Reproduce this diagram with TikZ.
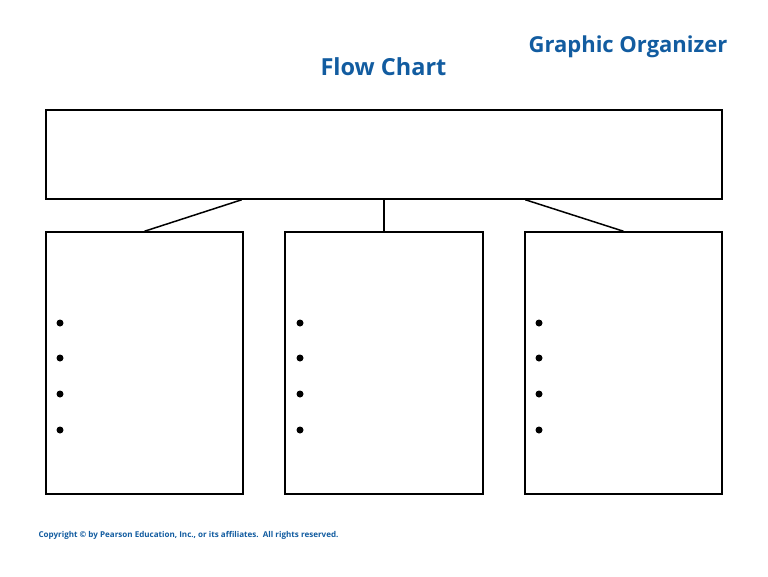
\documentclass[tikz,border=0pt]{standalone}
\usepackage{fontspec}
\setmainfont{Open Sans}
\usepackage{xcolor}
\usetikzlibrary{positioning,calc}
\definecolor{pearsonblue}{RGB}{18,92,160}
\tikzset{
  box/.style={draw, line width=1.5pt, minimum width=#1, inner sep=0pt},
  link/.style={line width=1.5pt},
  bullet/.style={circle, fill=black, inner sep=0pt, minimum size=7pt}
}

\begin{document}
\begin{tikzpicture}[x=1pt, y=-1pt]
    \useasboundingbox (0,0) rectangle (768,576);

    % Titles
    \node[font=\fontsize{23.5}{26}\selectfont\bfseries, text=pearsonblue] (title) at (383.5,67) {Flow Chart};
    \node[font=\fontsize{22}{26}\selectfont\bfseries, text=pearsonblue] (org) at (628,47) {Graphic Organizer};

    % Top box
    \node[box=676pt, minimum height=89pt] (top) at (384,154.5) {};

    % Lower boxes
    \node[box=197pt, minimum height=262pt] (left) at (144.5,363) {};
    \node[box=198pt, minimum height=262pt] (mid) at (384,363) {};
    \node[box=197pt, minimum height=262pt] (right) at (623.5,363) {};

    % Link points on the top box
    \coordinate (topl) at ($(top.south west)!0.29!(top.south east)$);
    \coordinate (topr) at ($(top.south west)!0.7086!(top.south east)$);

    % Links
    \draw[link] (topl) -- (left.north);
    \draw[link] (top.south) -- (mid.north);
    \draw[link] (topr) -- (right.north);

    % Bullets
    \foreach \bx/\col in {60/l, 300/m, 539/r} {
        \foreach \by [count=\i] in {323, 358, 394, 430} {
            \node[bullet] (b\col\i) at (\bx,\by) {};
        }
    }

    % Footer
    \node[anchor=west, font=\fontsize{8.05}{10}\selectfont\bfseries, text=pearsonblue] (copy) at (35,535) {Copyright © by Pearson Education, Inc., or its affiliates.\ \ All rights reserved.};
\end{tikzpicture}
\end{document}
